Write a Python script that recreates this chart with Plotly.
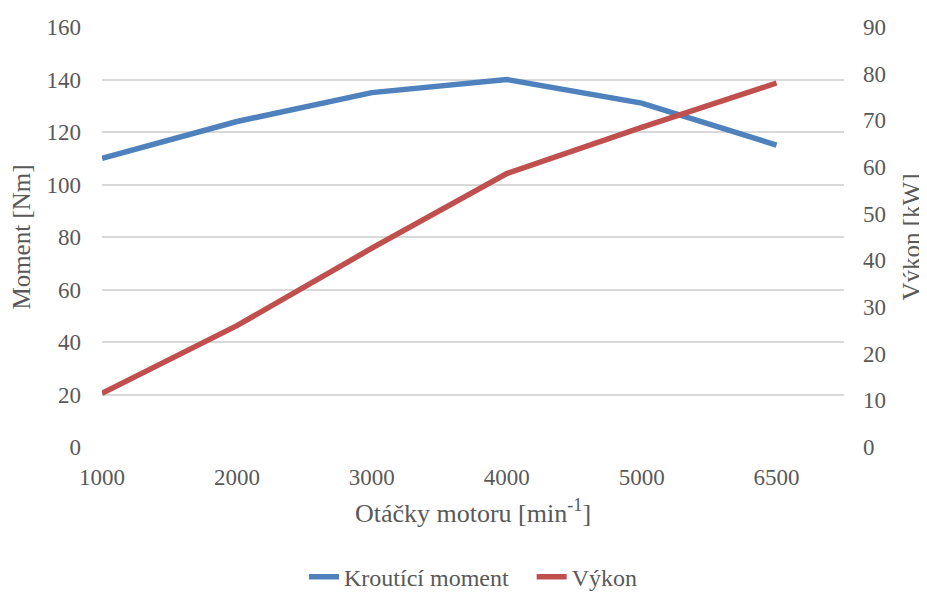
import plotly.graph_objects as go

rpm_labels = ["1000", "2000", "3000", "4000", "5000", "6500"]
torque_nm = [110, 124, 135, 140, 131, 115]
power_kw = [11.5, 26.0, 42.6, 58.6, 68.5, 78.0]

idx = list(range(len(rpm_labels)))
font_family = "Times New Roman, Liberation Serif, DejaVu Serif, serif"
txt = "#595959"
grid = "#d9d9d9"

fig = go.Figure()
fig.add_trace(go.Scatter(x=idx, y=torque_nm, mode="lines",
                         name="Kroutící moment\u00a0\u00a0\u00a0",
                         line=dict(color="#4f81bd", width=5.5), yaxis="y"))
fig.add_trace(go.Scatter(x=idx, y=power_kw, mode="lines", name="Výkon",
                         line=dict(color="#c0504d", width=5.5), yaxis="y2"))

fig.update_layout(
    width=927, height=592,
    margin=dict(l=94, r=91, t=19, b=153, autoexpand=False),
    paper_bgcolor="white", plot_bgcolor="white",
    font=dict(family=font_family, size=23, color=txt),
    showlegend=True,
    legend=dict(orientation="h", x=0.5, xanchor="center", y=-0.31, yanchor="middle",
                font=dict(family=font_family, size=24, color=txt), tracegroupgap=0),
    xaxis=dict(range=[0, 5.5], tickmode="array", tickvals=idx, ticktext=rpm_labels,
               showgrid=False, zeroline=False, showline=False, ticks="",
               ticklabelstandoff=14, tickfont=dict(family=font_family, size=23, color=txt),
               title=dict(text="Otáčky motoru [min<sup>-1</sup>]", standoff=14,
                          font=dict(family=font_family, size=26, color=txt))),
    yaxis=dict(range=[0, 160], dtick=20, showgrid=True, gridcolor=grid, gridwidth=1.5,
               zeroline=False, showline=False, ticks="", ticklabelstandoff=20,
               tickfont=dict(family=font_family, size=23, color=txt),
               title=dict(text="Moment [Nm]", standoff=14,
                          font=dict(family=font_family, size=25, color=txt))),
    yaxis2=dict(range=[0, 90], dtick=10, overlaying="y", side="right", showgrid=False,
                zeroline=False, showline=False, ticks="", ticklabelstandoff=18,
                tickfont=dict(family=font_family, size=23, color=txt),
                title=dict(text="Výkon [kW]", standoff=17,
                           font=dict(family=font_family, size=25, color=txt))),
)

fig.write_html("out.html")
